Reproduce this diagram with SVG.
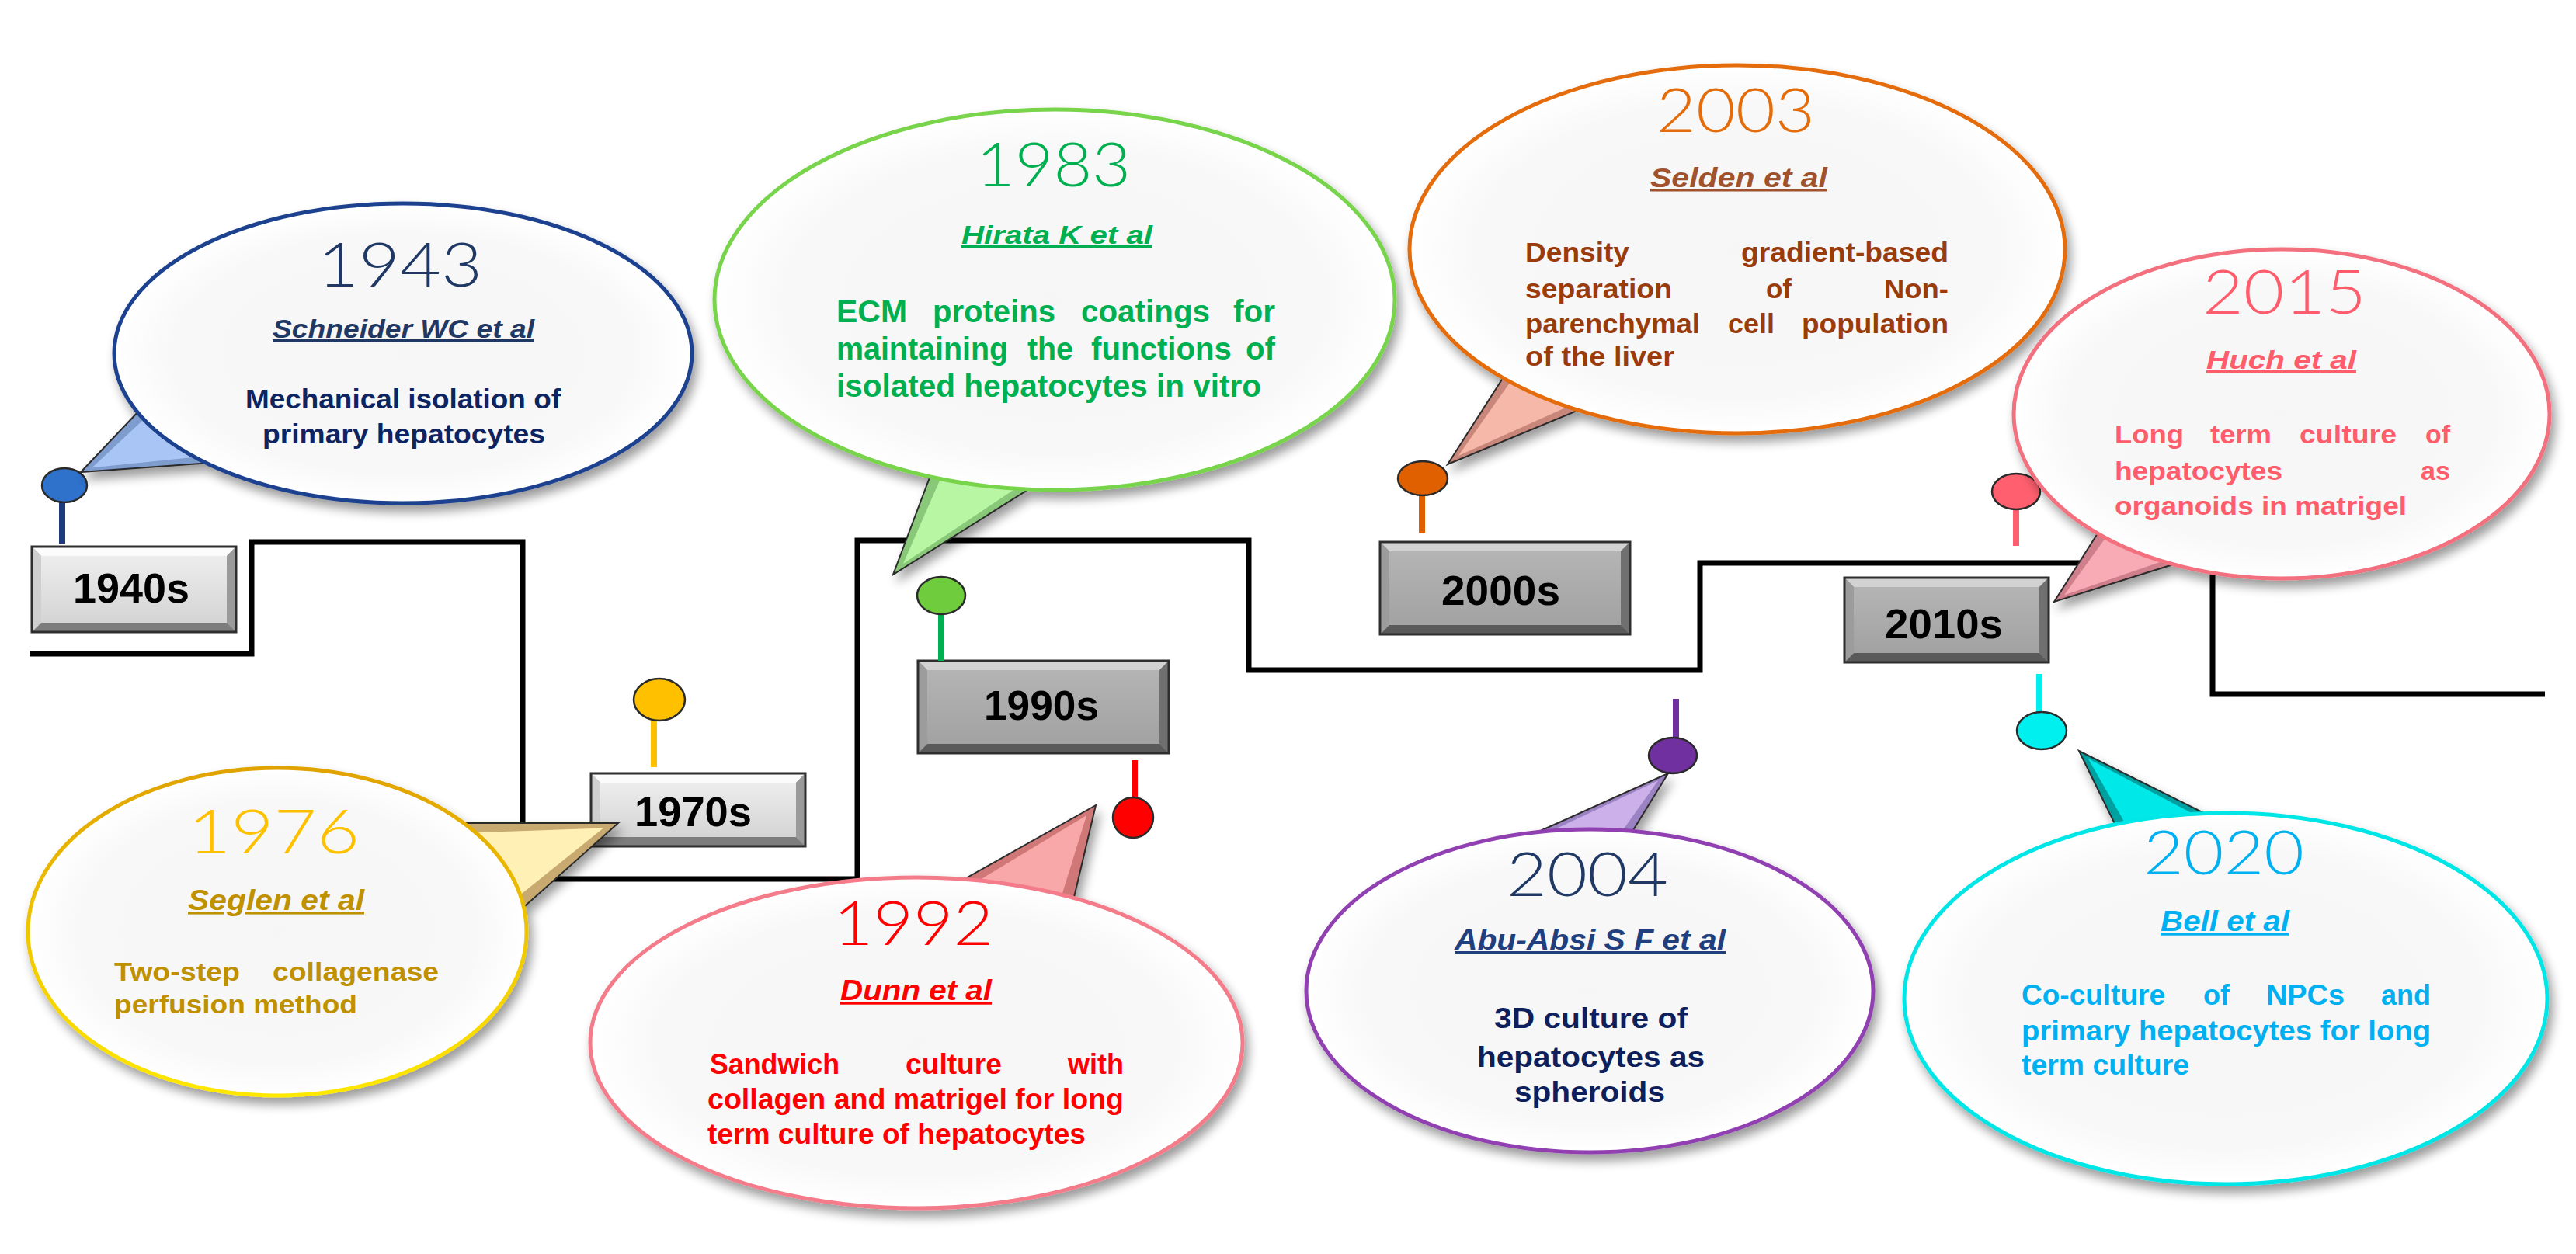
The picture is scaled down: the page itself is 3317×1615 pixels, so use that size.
<svg xmlns="http://www.w3.org/2000/svg" width="3317" height="1615" viewBox="0 0 3317 1615">
<defs>
<style>
.yr{font-family:Lato,'Open Sans','DejaVu Sans',sans-serif;font-weight:300;font-size:78px}
.au{font-family:'Liberation Sans Narrow','Liberation Sans',Arial,sans-serif;font-style:italic;font-weight:bold;text-decoration:underline}
.bd{font-family:'Liberation Sans',Arial,sans-serif;font-weight:bold}
.nr{font-family:'Liberation Sans Narrow','Liberation Sans',Arial,sans-serif;font-weight:bold}
.dec{font-family:'Liberation Sans',Arial,sans-serif;font-weight:bold;font-size:54px;fill:#000}
.bub{stroke-width:5;fill:url(#bfill)}
.tail{stroke:#2a2a2a;stroke-width:2;stroke-linejoin:miter}
.pin{stroke:#2a2a2a;stroke-width:2.5}
.stick{stroke-width:8}
.light .t{fill:#fbfbfb}.light .b{fill:#7d7d7d}.light .l{fill:#cfcfcf}.light .r{fill:#9a9a9a}.light .f{fill:url(#lface)}
.dark .t{fill:#d2d2d2}.dark .b{fill:#5a5a5a}.dark .l{fill:#9c9c9c}.dark .r{fill:#707070}.dark .f{fill:url(#dface)}
.frame{fill:none;stroke:#2e2e2e;stroke-width:3}
</style>
<radialGradient id="bfill" cx="0.5" cy="0.5" r="0.5">
<stop offset="0" stop-color="#f6f6f6"/><stop offset="0.8" stop-color="#f8f8f8"/><stop offset="1" stop-color="#ffffff"/>
</radialGradient>
<linearGradient id="lface" x1="0" y1="0" x2="0" y2="1"><stop offset="0" stop-color="#ededed"/><stop offset="1" stop-color="#d4d4d4"/></linearGradient>
<linearGradient id="dface" x1="0" y1="0" x2="0" y2="1"><stop offset="0" stop-color="#b4b4b4"/><stop offset="1" stop-color="#a2a2a2"/></linearGradient>
<linearGradient id="ystroke" x1="0" y1="0" x2="0" y2="1"><stop offset="0" stop-color="#e0a200"/><stop offset="1" stop-color="#ffe800"/></linearGradient>
<filter id="sh" x="-10%" y="-10%" width="125%" height="135%">
<feGaussianBlur in="SourceAlpha" stdDeviation="7"/><feOffset dx="5" dy="9"/>
<feComponentTransfer><feFuncA type="linear" slope="0.4"/></feComponentTransfer>
<feMerge><feMergeNode/><feMergeNode in="SourceGraphic"/></feMerge>
</filter>
</defs>
<rect width="3317" height="1615" fill="#ffffff"/>

<g id="connectors">
<path d="M38,842 H324 V698 H673 V1132 H1104 V696 H1608 V863 H2189 V725 H2849 V894 H3277" fill="none" stroke="#000" stroke-width="7" stroke-linejoin="miter"/>
</g>

<g id="dec1940s" class="light">
<rect x="41" y="704" width="263" height="110" fill="#999"/>
<polygon class="t" points="41,704 304,704 292,716 53,716"/>
<polygon class="b" points="41,814 304,814 292,802 53,802"/>
<polygon class="l" points="41,704 53,716 53,802 41,814"/>
<polygon class="r" points="304,704 292,716 292,802 304,814"/>
<rect class="f" x="53" y="716" width="239" height="86"/>
<rect class="frame" x="41" y="704" width="263" height="110"/>
<text class="dec" x="94" y="776" textLength="150" lengthAdjust="spacingAndGlyphs">1940s</text>
</g>
<g id="dec1970s" class="light">
<rect x="761" y="996" width="276" height="94" fill="#999"/>
<polygon class="t" points="761,996 1037,996 1025,1008 773,1008"/>
<polygon class="b" points="761,1090 1037,1090 1025,1078 773,1078"/>
<polygon class="l" points="761,996 773,1008 773,1078 761,1090"/>
<polygon class="r" points="1037,996 1025,1008 1025,1078 1037,1090"/>
<rect class="f" x="773" y="1008" width="252" height="70"/>
<rect class="frame" x="761" y="996" width="276" height="94"/>
<text class="dec" x="817" y="1064" textLength="151" lengthAdjust="spacingAndGlyphs">1970s</text>
</g>
<g id="dec1990s" class="dark">
<rect x="1182" y="851" width="323" height="119" fill="#888"/>
<polygon class="t" points="1182,851 1505,851 1493,863 1194,863"/>
<polygon class="b" points="1182,970 1505,970 1493,958 1194,958"/>
<polygon class="l" points="1182,851 1194,863 1194,958 1182,970"/>
<polygon class="r" points="1505,851 1493,863 1493,958 1505,970"/>
<rect class="f" x="1194" y="863" width="299" height="95"/>
<rect class="frame" x="1182" y="851" width="323" height="119"/>
<text class="dec" x="1267" y="927" textLength="148" lengthAdjust="spacingAndGlyphs">1990s</text>
</g>
<g id="dec2000s" class="dark">
<rect x="1777" y="698" width="322" height="119" fill="#888"/>
<polygon class="t" points="1777,698 2099,698 2087,710 1789,710"/>
<polygon class="b" points="1777,817 2099,817 2087,805 1789,805"/>
<polygon class="l" points="1777,698 1789,710 1789,805 1777,817"/>
<polygon class="r" points="2099,698 2087,710 2087,805 2099,817"/>
<rect class="f" x="1789" y="710" width="298" height="95"/>
<rect class="frame" x="1777" y="698" width="322" height="119"/>
<text class="dec" x="1856" y="779" textLength="153" lengthAdjust="spacingAndGlyphs">2000s</text>
</g>
<g id="dec2010s" class="dark">
<rect x="2375" y="744" width="263" height="109" fill="#888"/>
<polygon class="t" points="2375,744 2638,744 2626,756 2387,756"/>
<polygon class="b" points="2375,853 2638,853 2626,841 2387,841"/>
<polygon class="l" points="2375,744 2387,756 2387,841 2375,853"/>
<polygon class="r" points="2638,744 2626,756 2626,841 2638,853"/>
<rect class="f" x="2387" y="756" width="239" height="85"/>
<rect class="frame" x="2375" y="744" width="263" height="109"/>
<text class="dec" x="2427" y="822" textLength="152" lengthAdjust="spacingAndGlyphs">2010s</text>
</g>

<g id="ev1943">
<line class="stick" x1="80" y1="646" x2="80" y2="700" stroke="#1f3a7a"/>
<ellipse class="pin" cx="83" cy="625" rx="29" ry="22" fill="#2f72cc"/>
<g filter="url(#sh)">
<polygon class="tail" points="104,608 200,507 300,594" fill="#7f9ccf"/>
<polygon points="118.6,602.3 200.4,525.8 270.4,586.7" fill="#a9c5f5"/>
<ellipse class="bub" cx="519" cy="455" rx="372" ry="193" stroke="#1f438f"/>
</g>
<text class="yr" x="409" y="369" fill="#1f3864" textLength="212" lengthAdjust="spacingAndGlyphs">1943</text>
<text class="au" x="351" y="435" font-size="33" fill="#1f3864" textLength="337" lengthAdjust="spacingAndGlyphs">Schneider WC et al</text>
<text class="bd" x="316" y="526" font-size="35" fill="#0d2460" textLength="406" lengthAdjust="spacingAndGlyphs">Mechanical isolation of</text>
<text class="bd" x="338" y="571" font-size="35" fill="#0d2460" textLength="364" lengthAdjust="spacingAndGlyphs">primary hepatocytes</text>
</g>

<g id="ev1976">
<line class="stick" x1="842" y1="926" x2="842" y2="988" stroke="#ffc000" stroke-width="7"/>
<ellipse class="pin" cx="849" cy="901" rx="33" ry="27" fill="#ffc000"/>
<g filter="url(#sh)">
<polygon class="tail" points="796,1060 560,1060 650,1190" fill="#c8aa70"/>
<polygon points="776.9,1066.5 592.6,1073 655.6,1164" fill="#fff0b5"/>
<ellipse class="bub" cx="357" cy="1200" rx="321" ry="211" stroke="url(#ystroke)"/>
</g>
<text class="yr" x="242" y="1099" fill="#ffc000" textLength="221" lengthAdjust="spacingAndGlyphs">1976</text>
<text class="au" x="242" y="1172" font-size="36" fill="#bf9000" textLength="227" lengthAdjust="spacingAndGlyphs">Seglen et al</text>
<text class="nr" x="147" y="1263" font-size="34" fill="#bf9000" textLength="162" lengthAdjust="spacingAndGlyphs">Two-step</text>
<text class="nr" x="351" y="1263" font-size="34" fill="#bf9000" textLength="214" lengthAdjust="spacingAndGlyphs">collagenase</text>
<text class="nr" x="147" y="1305" font-size="34" fill="#bf9000" textLength="313" lengthAdjust="spacingAndGlyphs">perfusion method</text>
</g>

<g id="ev1983">
<line class="stick" x1="1212" y1="790" x2="1212" y2="851" stroke="#00b050"/>
<ellipse class="pin" cx="1212" cy="767" rx="31" ry="24" fill="#6fcc3c"/>
<g filter="url(#sh)">
<polygon class="tail" points="1150,740 1208,586 1350,614" fill="#88c878"/>
<polygon points="1162.9,726 1216.4,604.2 1315.8,623.8" fill="#b8f6a4"/>
<ellipse class="bub" cx="1358" cy="386" rx="438" ry="245" stroke="#77d44b"/>
</g>
<text class="yr" x="1257" y="240" fill="#00b050" textLength="199" lengthAdjust="spacingAndGlyphs">1983</text>
<text class="au" x="1238" y="314" font-size="33" fill="#00b050" textLength="246" lengthAdjust="spacingAndGlyphs">Hirata K et al</text>
<g class="bd" font-size="40" fill="#00b050">
<text x="1077" y="415" textLength="91" lengthAdjust="spacingAndGlyphs">ECM</text>
<text x="1201" y="415" textLength="158" lengthAdjust="spacingAndGlyphs">proteins</text>
<text x="1392" y="415" textLength="166" lengthAdjust="spacingAndGlyphs">coatings</text>
<text x="1588" y="415" textLength="54" lengthAdjust="spacingAndGlyphs">for</text>
<text x="1077" y="463" textLength="221" lengthAdjust="spacingAndGlyphs">maintaining</text>
<text x="1323" y="463" textLength="59" lengthAdjust="spacingAndGlyphs">the</text>
<text x="1405" y="463" textLength="181" lengthAdjust="spacingAndGlyphs">functions</text>
<text x="1604" y="463" textLength="38" lengthAdjust="spacingAndGlyphs">of</text>
<text x="1077" y="511" textLength="547" lengthAdjust="spacingAndGlyphs">isolated hepatocytes in vitro</text>
</g>
</g>

<g id="ev1992">
<line class="stick" x1="1461" y1="979" x2="1461" y2="1032" stroke="#ff0000"/>
<circle class="pin" cx="1459" cy="1053" r="26" fill="#ff0000"/>
<g filter="url(#sh)">
<polygon class="tail" points="1411,1037 1210,1150 1376,1185" fill="#d07878"/>
<polygon points="1399.2,1050.1 1246.7,1142.2 1362.9,1166.7" fill="#f8a8a8"/>
<ellipse class="bub" cx="1180" cy="1343" rx="420" ry="213" stroke="#f47c8a"/>
</g>
<text class="yr" x="1073" y="1217" fill="#ff0000" textLength="206" lengthAdjust="spacingAndGlyphs">1992</text>
<text class="au" x="1082" y="1288" font-size="37" fill="#ff0000" textLength="195" lengthAdjust="spacingAndGlyphs">Dunn et al</text>
<g class="nr" font-size="36" fill="#ff0000">
<text x="914" y="1383" textLength="167" lengthAdjust="spacingAndGlyphs">Sandwich</text>
<text x="1166" y="1383" textLength="124" lengthAdjust="spacingAndGlyphs">culture</text>
<text x="1375" y="1383" textLength="72" lengthAdjust="spacingAndGlyphs">with</text>
<text x="911" y="1428" textLength="536" lengthAdjust="spacingAndGlyphs">collagen and matrigel for long</text>
<text x="911" y="1473" textLength="487" lengthAdjust="spacingAndGlyphs">term culture of hepatocytes</text>
</g>
</g>

<g id="ev2003">
<line class="stick" x1="1831" y1="636" x2="1831" y2="686" stroke="#e06000"/>
<ellipse class="pin" cx="1832" cy="616" rx="32" ry="22" fill="#e06000"/>
<g filter="url(#sh)">
<polygon class="tail" points="1864,598 1955,456 2050,521" fill="#c8877a"/>
<polygon points="1877.8,587.1 1955.4,476.7 2021.9,522.2" fill="#f6b8a8"/>
<ellipse class="bub" cx="2237" cy="321" rx="422" ry="237" stroke="#e46c0a"/>
</g>
<text class="yr" x="2133" y="170" fill="#e46c0a" textLength="204" lengthAdjust="spacingAndGlyphs">2003</text>
<text class="au" x="2125" y="241" font-size="35" fill="#a0522d" textLength="228" lengthAdjust="spacingAndGlyphs">Selden et al</text>
<g class="bd" font-size="35" fill="#9a3b0c">
<text x="1964" y="337" textLength="134" lengthAdjust="spacingAndGlyphs">Density</text>
<text x="2242" y="337" textLength="267" lengthAdjust="spacingAndGlyphs">gradient-based</text>
<text x="1964" y="384" textLength="189" lengthAdjust="spacingAndGlyphs">separation</text>
<text x="2274" y="384" textLength="33" lengthAdjust="spacingAndGlyphs">of</text>
<text x="2426" y="384" textLength="83" lengthAdjust="spacingAndGlyphs">Non-</text>
<text x="1964" y="429" textLength="225" lengthAdjust="spacingAndGlyphs">parenchymal</text>
<text x="2225" y="429" textLength="60" lengthAdjust="spacingAndGlyphs">cell</text>
<text x="2320" y="429" textLength="189" lengthAdjust="spacingAndGlyphs">population</text>
<text x="1964" y="471" textLength="192" lengthAdjust="spacingAndGlyphs">of the liver</text>
</g>
</g>

<g id="ev2004">
<line class="stick" x1="2158" y1="900" x2="2158" y2="952" stroke="#7030a0"/>
<ellipse class="pin" cx="2154" cy="973" rx="31" ry="23" fill="#7030a0"/>
<g filter="url(#sh)">
<polygon class="tail" points="2148,996 1950,1085 2090,1090" fill="#9b82c2"/>
<polygon points="2135.2,1005.2 1983.8,1076.6 2081.8,1080.1" fill="#cbb0ea"/>
<ellipse class="bub" cx="2047" cy="1276" rx="365" ry="208" stroke="#9040b0"/>
</g>
<text class="yr" x="1940" y="1154" fill="#1f3864" textLength="208" lengthAdjust="spacingAndGlyphs">2004</text>
<text class="au" x="1873" y="1223" font-size="36" fill="#1f3f7f" textLength="349" lengthAdjust="spacingAndGlyphs">Abu-Absi S F et al</text>
<g class="nr" font-size="36" fill="#0d1f5c">
<text x="1924" y="1324" textLength="249" lengthAdjust="spacingAndGlyphs">3D culture of</text>
<text x="1902" y="1374" textLength="293" lengthAdjust="spacingAndGlyphs">hepatocytes as</text>
<text x="1950" y="1419" textLength="194" lengthAdjust="spacingAndGlyphs">spheroids</text>
</g>
</g>

<g id="ev2015">
<line class="stick" x1="2596" y1="654" x2="2596" y2="703" stroke="#ff5f6e"/>
<ellipse class="pin" cx="2596" cy="633" rx="31" ry="23" fill="#ff5f6e"/>
<g filter="url(#sh)">
<polygon class="tail" points="2645,775 2715,665 2830,717" fill="#cf7f8c"/>
<polygon points="2657.8,766.6 2719.5,681.2 2800,717.6" fill="#f8aab5"/>
<ellipse class="bub" cx="2938" cy="533" rx="345" ry="212" stroke="#f36f7f"/>
</g>
<text class="yr" x="2836" y="404" fill="#ff5c6c" textLength="211" lengthAdjust="spacingAndGlyphs">2015</text>
<text class="au" x="2841" y="475" font-size="34" fill="#ff5c6c" textLength="193" lengthAdjust="spacingAndGlyphs">Huch et al</text>
<g class="bd" font-size="34" fill="#ff5c6c">
<text x="2723" y="571" textLength="89" lengthAdjust="spacingAndGlyphs">Long</text>
<text x="2846" y="571" textLength="79" lengthAdjust="spacingAndGlyphs">term</text>
<text x="2961" y="571" textLength="125" lengthAdjust="spacingAndGlyphs">culture</text>
<text x="3123" y="571" textLength="32" lengthAdjust="spacingAndGlyphs">of</text>
<text x="2723" y="618" textLength="216" lengthAdjust="spacingAndGlyphs">hepatocytes</text>
<text x="3117" y="618" textLength="38" lengthAdjust="spacingAndGlyphs">as</text>
<text x="2723" y="663" textLength="376" lengthAdjust="spacingAndGlyphs">organoids in matrigel</text>
</g>
</g>

<g id="ev2020">
<line class="stick" x1="2626" y1="868" x2="2626" y2="920" stroke="#00f0f0"/>
<ellipse class="pin" cx="2629" cy="941" rx="32" ry="24" fill="#00f0f0"/>
<g filter="url(#sh)">
<polygon class="tail" points="2677,967 2730,1075 2860,1058" fill="#00a0a0"/>
<polygon points="2688.8,977 2737.7,1062.5 2828.7,1050.6" fill="#00e8e8"/>
<ellipse class="bub" cx="2866" cy="1286" rx="414" ry="239" stroke="#00e5e5"/>
</g>
<text class="yr" x="2760" y="1126" fill="#00b0f0" textLength="207" lengthAdjust="spacingAndGlyphs">2020</text>
<text class="au" x="2782" y="1199" font-size="37" fill="#00b0f0" textLength="166" lengthAdjust="spacingAndGlyphs">Bell et al</text>
<g class="nr" font-size="36" fill="#00b0f0">
<text x="2603" y="1294" textLength="185" lengthAdjust="spacingAndGlyphs">Co-culture</text>
<text x="2837" y="1294" textLength="34" lengthAdjust="spacingAndGlyphs">of</text>
<text x="2918" y="1294" textLength="101" lengthAdjust="spacingAndGlyphs">NPCs</text>
<text x="3066" y="1294" textLength="64" lengthAdjust="spacingAndGlyphs">and</text>
<text x="2603" y="1340" textLength="527" lengthAdjust="spacingAndGlyphs">primary hepatocytes for long</text>
<text x="2603" y="1384" textLength="216" lengthAdjust="spacingAndGlyphs">term culture</text>
</g>
</g>
</svg>
